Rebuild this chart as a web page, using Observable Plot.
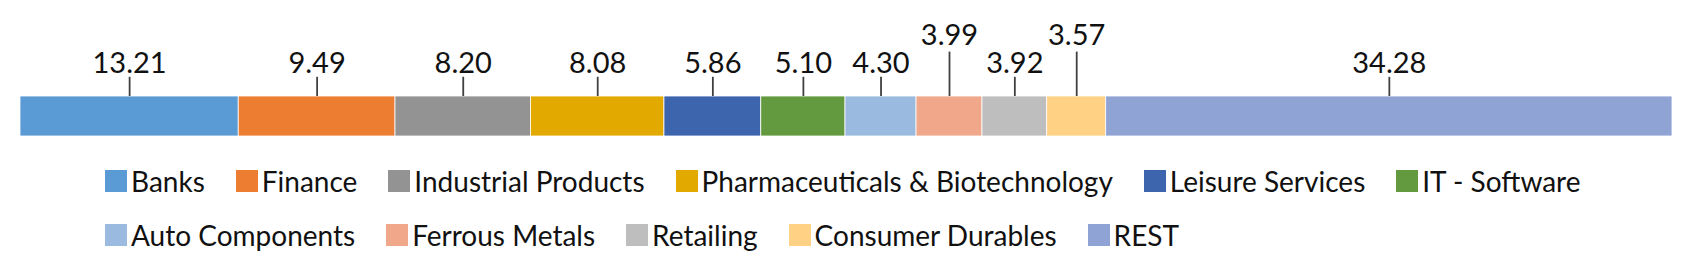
<!DOCTYPE html>
<html>
<head>
<meta charset="utf-8">
<script src="https://cdn.jsdelivr.net/npm/d3@7"></script>
<script src="https://cdn.jsdelivr.net/npm/@observablehq/plot@0.6"></script>
<style>
  html, body { margin: 0; padding: 0; background: #fff; }
  #chart { width: 1693px; height: 270px; overflow: hidden; }
  .legend { display: flex; flex-wrap: wrap; padding: 4px 0 0 105px; box-sizing: border-box; width: 1693px;
    font-family: Lato, "Open Sans", sans-serif; font-size: 28px; color: #111; }
  .legend .item { display: flex; align-items: center; height: 54px; margin-right: 31px; }
  .legend .sw { width: 22px; height: 22px; margin-right: 4px; }
</style>
</head>
<body>
<div id="chart"></div>
<script>
const categories = ["Banks", "Finance", "Industrial Products", "Pharmaceuticals & Biotechnology",
  "Leisure Services", "IT - Software", "Auto Components", "Ferrous Metals", "Retailing",
  "Consumer Durables", "REST"];
const values = [13.21, 9.49, 8.20, 8.08, 5.86, 5.10, 4.30, 3.99, 3.92, 3.57, 34.28];
const colors = ["#5B9BD5", "#ED7D31", "#939393", "#E2AA00", "#3D65AD", "#639A3F",
  "#9BBAE0", "#F1A78A", "#BEBEBE", "#FED184", "#8FA4D4"];

// label rows (in y-scale units above the bar, bar spans 0..1)
const labelRow = [1.82, 2.52];
const stemTop = [1.48, 2.11];
const minGap = 4.5; // minimum spacing between labels on one row, in data units

const ends = d3.cumsum(values);
const rows = categories.map((c, i) => ({
  category: c, value: values[i], x1: ends[i] - values[i], x2: ends[i], mid: ends[i] - values[i] / 2
}));
let lastMid = -Infinity;
for (const r of rows) {
  if (r.mid - lastMid < minGap) { r.level = 1; } else { r.level = 0; lastMid = r.mid; }
}

const font = 'Lato, "Open Sans", sans-serif';
const plot = Plot.plot({
  width: 1693,
  height: 150,
  marginLeft: 20,
  marginRight: 21,
  marginTop: 96,
  marginBottom: 14,
  style: {fontFamily: font, fontSize: "29px", background: "white", overflow: "visible"},
  x: {domain: [0, d3.sum(values)], axis: null},
  y: {domain: [0, 1], axis: null},
  color: {domain: categories, range: colors},
  marks: [
    Plot.rectX(rows, {x1: "x1", x2: "x2", y1: 0, y2: 1, fill: "category", stroke: "white", strokeWidth: 0.8}),
    Plot.ruleX(rows, {x: "mid", y1: 1, y2: d => stemTop[d.level], stroke: "#404040", strokeWidth: 1.8}),
    Plot.text(rows, {x: "mid", y: d => labelRow[d.level], text: d => d.value.toFixed(2), fill: "#111", fontSize: 29})
  ]
});
const root = document.getElementById("chart");
root.appendChild(plot);

const legend = d3.select(root).append("div").attr("class", "legend");
const items = legend.selectAll(".item").data(categories).join("div").attr("class", "item");
items.append("div").attr("class", "sw").style("background", (d, i) => colors[i]);
items.append("span").text(d => d);
</script>
</body>
</html>
